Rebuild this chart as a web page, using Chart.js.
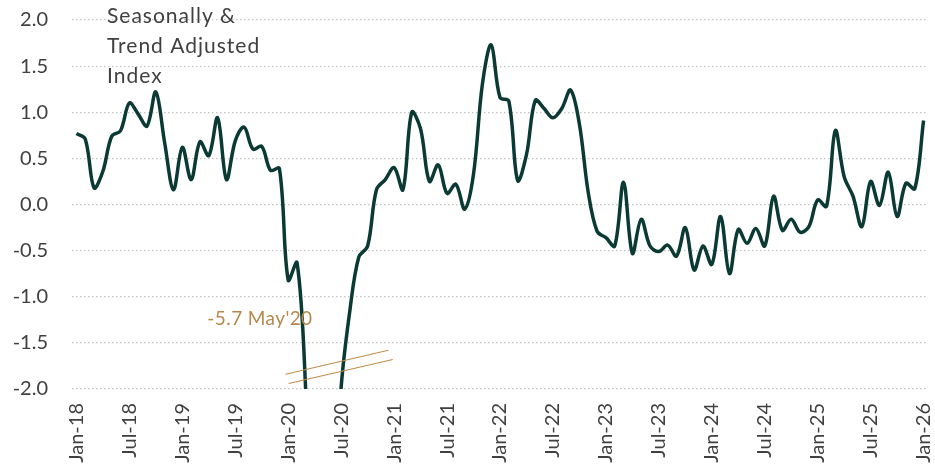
<!DOCTYPE html>
<html><head><meta charset="utf-8">
<script src="https://cdn.jsdelivr.net/npm/chart.js@4"></script>
<style>html,body{margin:0;padding:0;background:#fff}#wrap{width:935px;height:470px;position:relative}</style>
</head><body><div id="wrap"><canvas id="c"></canvas></div>
<script>
// Monthly index values, Jan-18 .. Jan-26
const y2018 = [0.77, 0.71, 0.18, 0.36, 0.74, 0.80, 1.10, 0.98, 0.85, 1.22, 0.67, 0.16];
const y2019 = [0.62, 0.27, 0.68, 0.53, 0.94, 0.27, 0.69, 0.84, 0.60, 0.63, 0.37, 0.39];
const y2020 = [-0.82, -0.63, -2.05, -4.6, -5.7, -3.6, -1.98, -1.14, -0.57, -0.45, 0.16, 0.27];
const y2021 = [0.40, 0.16, 1.00, 0.82, 0.25, 0.43, 0.12, 0.22, -0.05, 0.33, 1.30, 1.73];
const y2022 = [1.16, 1.12, 0.26, 0.54, 1.13, 1.04, 0.94, 1.04, 1.24, 0.87, 0.13, -0.29];
const y2023 = [-0.36, -0.45, 0.24, -0.53, -0.16, -0.45, -0.51, -0.44, -0.56, -0.25, -0.71, -0.45];
const y2024 = [-0.65, -0.13, -0.75, -0.27, -0.42, -0.26, -0.45, 0.09, -0.28, -0.16, -0.30, -0.24];
const y2025 = [0.05, -0.02, 0.80, 0.30, 0.09, -0.24, 0.25, -0.01, 0.35, -0.13, 0.23, 0.17];
const y2026 = [0.91];
const values = [].concat(y2018, y2019, y2020, y2021, y2022, y2023, y2024, y2025, y2026);

// Tick labels every 6 months
const tickLabels = ['Jan-18','Jul-18','Jan-19','Jul-19','Jan-20','Jul-20','Jan-21','Jul-21','Jan-22','Jul-22','Jan-23','Jul-23','Jan-24','Jul-24','Jan-25','Jul-25','Jan-26'];
const yTicks = [-2.0, -1.5, -1.0, -0.5, 0.0, 0.5, 1.0, 1.5, 2.0];

const titleLines = ['Seasonally &', 'Trend Adjusted', 'Index'];
const annotationText = "-5.7 May'20";

const points = values.map((v, i) => ({x: i, y: v}));
const FONT = 'Lato, "Open Sans", sans-serif';

const extras = {
  id: 'extras',
  afterDatasetsDraw(chart) {
    const {ctx, chartArea, scales: {x, y}} = chart;
    ctx.save();
    // break marks
    ctx.strokeStyle = '#bf8f4f';
    ctx.lineWidth = 1.2;
    ctx.beginPath();
    ctx.moveTo(x.getPixelForValue(23.7), y.getPixelForValue(-1.84));
    ctx.lineTo(x.getPixelForValue(35.35), y.getPixelForValue(-1.58));
    ctx.moveTo(x.getPixelForValue(24.05), y.getPixelForValue(-1.94));
    ctx.lineTo(x.getPixelForValue(35.85), y.getPixelForValue(-1.68));
    ctx.stroke();
    // annotation
    ctx.fillStyle = '#b5894d';
    ctx.font = '19px ' + FONT;
    try { ctx.letterSpacing = '0.4px'; } catch (e) {}
    ctx.textAlign = 'left';
    ctx.textBaseline = 'middle';
    ctx.fillText(annotationText, x.getPixelForValue(14.84), y.getPixelForValue(-1.24));
    // title text
    ctx.fillStyle = '#404040';
    ctx.font = '21px ' + FONT;
    try { ctx.letterSpacing = '1px'; } catch (e) {}
    titleLines.forEach((t, k) => ctx.fillText(t, chartArea.left + 35, chartArea.top - 4 + k * 30));
    ctx.restore();
  }
};

new Chart(document.getElementById('c'), {
  type: 'line',
  data: {
    datasets: [{
      data: points,
      borderColor: '#0b3a35',
      borderWidth: 3.5,
      pointRadius: 0,
      tension: 0.35,
      fill: false,
      clip: 0
    }]
  },
  plugins: [extras],
  options: {
    responsive: true,
    maintainAspectRatio: false,
    animation: false,
    events: [],
    layout: {padding: {top: 20, right: 7, left: 0, bottom: 0}},
    plugins: {legend: {display: false}, tooltip: {enabled: false}},
    scales: {
      x: {
        type: 'linear',
        min: -0.5,
        max: 96.5,
        grid: {display: false, drawTicks: false},
        border: {display: false},
        afterBuildTicks(scale) {
          scale.ticks = tickLabels.map((_, k) => ({value: k * 6}));
        },
        afterFit(scale) {
          scale.height = 81;
          scale.paddingLeft = 0;
          scale.paddingRight = 0;
        },
        ticks: {
          autoSkip: false,
          minRotation: 90,
          maxRotation: 90,
          padding: 14,
          color: '#404040',
          font: {family: FONT, size: 20},
          callback: (v) => tickLabels[Math.round(v / 6)]
        }
      },
      y: {
        min: -2,
        max: 2,
        afterBuildTicks(scale) {
          scale.ticks = yTicks.map(v => ({value: v}));
        },
        afterFit(scale) {
          scale.width = 72;
          scale.paddingTop = 0;
          scale.paddingBottom = 0;
        },
        grid: {color: '#c4c4c4', lineWidth: 1.2, drawTicks: false},
        border: {display: false, dash: [1.5, 2.5]},
        ticks: {
          padding: 24,
          color: '#404040',
          font: {family: FONT, size: 20},
          callback: (v) => Number(v).toFixed(1)
        }
      }
    }
  }
});
</script>
</body></html>
